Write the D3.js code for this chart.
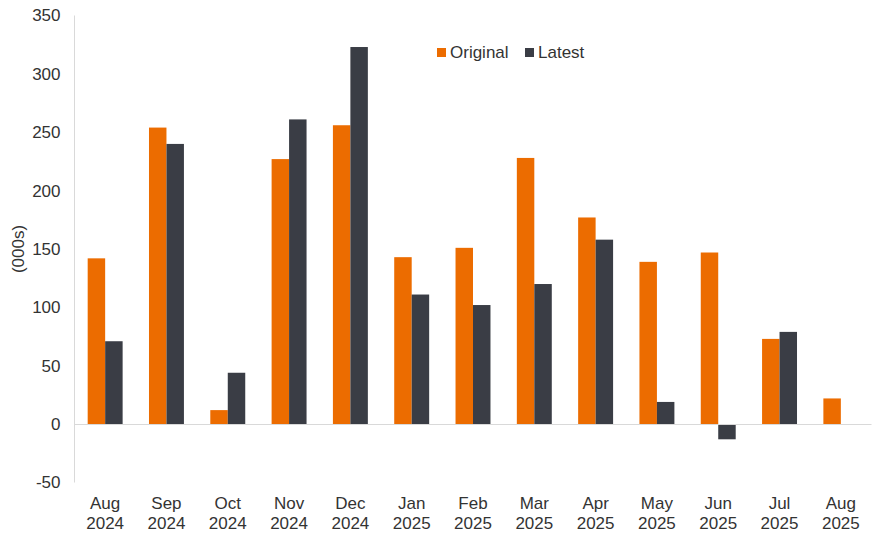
<!DOCTYPE html>
<html>
<head>
<meta charset="utf-8">
<script src="https://cdn.jsdelivr.net/npm/d3@7"></script>
<style>
  body { margin: 0; background: #fff; }
  svg { display: block; font-family: "Liberation Sans", Arial, sans-serif; }
</style>
</head>
<body>
<svg id="chart" width="876" height="536"></svg>
<script>
const categories = ["Aug 2024","Sep 2024","Oct 2024","Nov 2024","Dec 2024","Jan 2025","Feb 2025","Mar 2025","Apr 2025","May 2025","Jun 2025","Jul 2025","Aug 2025"];
const original = [142, 254, 12, 227, 256, 143, 151, 228, 177, 139, 147, 73, 22];
const latest = [71, 240, 44, 261, 323, 111, 102, 120, 158, 19, -13, 79, null];
const seriesNames = ["Original", "Latest"];
const yTicks = [-50, 0, 50, 100, 150, 200, 250, 300, 350];
const colors = ["#EC6C00", "#3A3D45"];

const svg = d3.select("#chart");
const mLeft = 74.5, mRight = 871.5, mTop = 15.5, mBottom = 482.5;
const fs = 17, txt = "#333";

const x = d3.scaleBand().domain(categories).range([mLeft, mRight]).paddingInner(0.43).paddingOuter(0.215);
const xs = d3.scaleBand().domain(seriesNames).range([0, x.bandwidth()]);
const y = d3.scaleLinear().domain([-50, 350]).range([mBottom, mTop]);

// axis line
svg.append("line").attr("x1", mLeft).attr("x2", mLeft).attr("y1", mTop).attr("y2", mBottom)
  .attr("stroke", "#d9d9d9").attr("stroke-width", 1);

// y tick labels
const yAxis = d3.axisLeft(y).tickValues(yTicks).tickSize(0).tickPadding(14).tickFormat(d => String(d));
const gy = svg.append("g").attr("transform", `translate(${mLeft},0)`).call(yAxis);
gy.select(".domain").remove();
gy.selectAll("text").attr("font-size", fs).attr("fill", txt).attr("font-family", "Liberation Sans, Arial, sans-serif");

// y label
svg.append("text").attr("transform", `translate(24,${(mTop+mBottom)/2}) rotate(-90)`)
  .attr("text-anchor", "middle").attr("font-size", fs).attr("fill", txt).text("(000s)");

// bars
const data = seriesNames.map((s, i) => ({ name: s, values: i === 0 ? original : latest, color: colors[i] }));
data.forEach(s => {
  svg.append("g").selectAll("rect")
    .data(categories.map((c, j) => ({ c, v: s.values[j] })).filter(d => d.v !== null))
    .join("rect")
    .attr("x", d => x(d.c) + xs(s.name))
    .attr("width", xs.bandwidth())
    .attr("y", d => y(Math.max(0, d.v)))
    .attr("height", d => Math.abs(y(d.v) - y(0)))
    .attr("fill", s.color);
});

// zero line
svg.append("line").attr("x1", mLeft).attr("x2", mRight).attr("y1", Math.round(y(0)) + 0.5).attr("y2", Math.round(y(0)) + 0.5)
  .attr("stroke", "#d9d9d9").attr("stroke-width", 1);

// x labels
const gx = svg.append("g");
categories.forEach(c => {
  const parts = c.split(" ");
  const cx = x(c) + x.bandwidth() / 2;
  const t = gx.append("text").attr("x", cx).attr("y", 509)
    .attr("text-anchor", "middle").attr("font-size", fs).attr("fill", txt);
  t.append("tspan").attr("x", cx).attr("dy", 0).text(parts[0]);
  t.append("tspan").attr("x", cx).attr("dy", 19.5).text(parts[1]);
});

// legend
const legendPos = [437, 525];
seriesNames.forEach((s, i) => {
  const g = svg.append("g").attr("transform", `translate(${legendPos[i]},52)`);
  g.append("rect").attr("x", 0).attr("y", -4).attr("width", 9).attr("height", 9).attr("fill", colors[i]);
  g.append("text").attr("x", 13).attr("y", 6).attr("font-size", fs).attr("fill", txt).text(s);
});
</script>
</body>
</html>
